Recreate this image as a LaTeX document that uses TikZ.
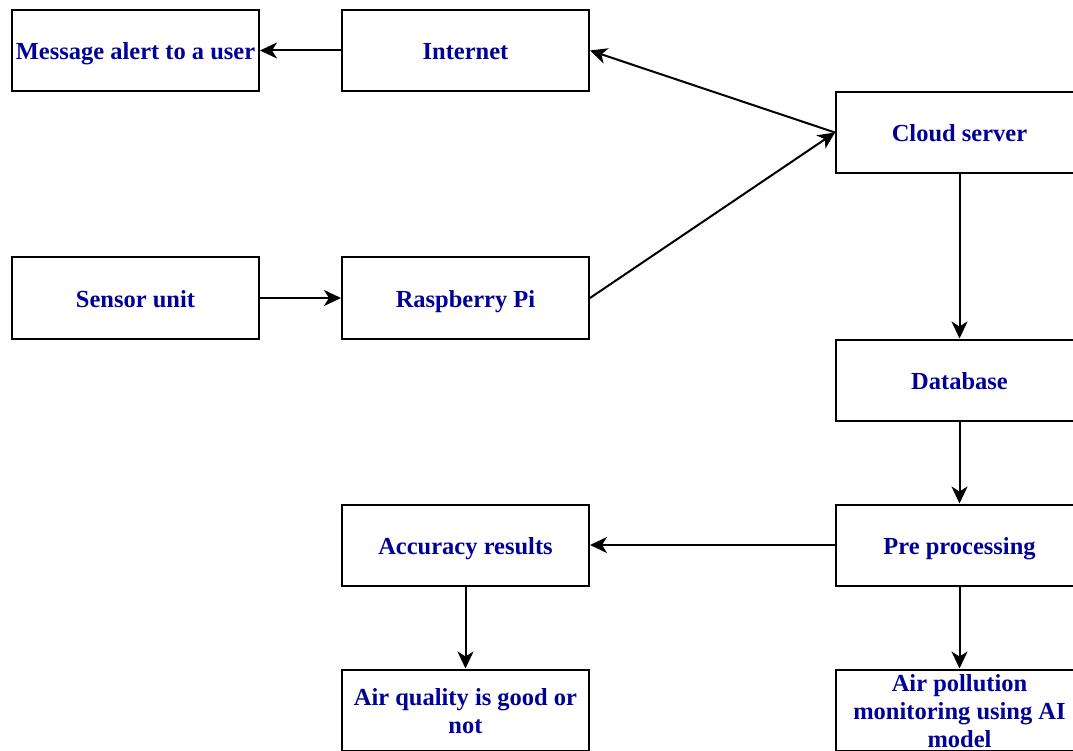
\documentclass[tikz,border=0pt]{standalone}
\usepackage{fontspec}
\setmainfont{Liberation Serif}
\usetikzlibrary{arrows.meta}
\definecolor{labelblue}{RGB}{0,0,153}
% centred block of lines whose baseline is that of its last line
\newcommand{\linesblock}[1]{\parbox[b]{245pt}{\centering #1}}
\tikzset{
  stagebox/.style={draw=black, line width=2pt, fill=white,
    minimum width=247pt, minimum height=81pt, inner sep=0pt,
    text height=18.5pt, text depth=0pt, text=labelblue,
    font=\fontsize{24.5}{28}\selectfont\bfseries},
  twolines/.style={text height=46.5pt},
  threelines/.style={text height=74.5pt},
  flow/.style={draw=black, line width=2pt,
    -{Stealth[length=17pt,width=16pt,inset=5pt]}}
}
\begin{document}
\begin{tikzpicture}[x=1pt,y=-1pt]
  \fill[white] (0,0) rectangle (1073,751);
  \clip (0,0) rectangle (1073,751);

  % left column
  \node[stagebox] (msg)    at (135.5,50.5) {Message alert to a user};
  \node[stagebox] (sensor) at (135.5,298)  {Sensor unit};
  % middle column
  \node[stagebox] (net)    at (465.5,50.5) {Internet};
  \node[stagebox] (rpi)    at (465.5,298)  {Raspberry Pi};
  \node[stagebox] (acc)    at (465.5,545)  {Accuracy results};
  \node[stagebox,twolines] (good) at (465.5,710)
    {\linesblock{Air quality is good or\\not}};
  % right column
  \node[stagebox] (cloud)  at (959.5,132.5) {Cloud server};
  \node[stagebox] (db)     at (959.5,380)   {Database};
  \node[stagebox] (pre)    at (959.5,545)   {Pre processing};
  \node[stagebox,threelines] (model) at (959.5,710)
    {\linesblock{Air pollution\\monitoring using AI\\model}};

  % connectors
  \draw[flow] (net.west) -- (msg.east);
  \draw[flow] (cloud.west) -- (net.east);
  \draw[flow] (sensor.east) -- (rpi.west);
  \draw[flow] (rpi.east) -- (cloud.west);
  \draw[flow] (cloud.south) -- (db.north);
  \draw[flow] (db.south) -- (pre.north);
  \draw[flow] (pre.west) -- (acc.east);
  \draw[flow] (acc.south) -- (good.north);
  \draw[flow] (pre.south) -- (model.north);
\end{tikzpicture}
\end{document}
